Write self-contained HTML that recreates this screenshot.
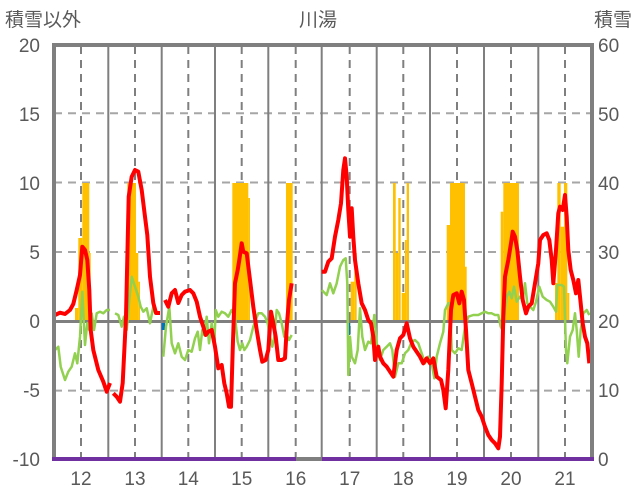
<!DOCTYPE html>
<html><head><meta charset="utf-8"><style>
html,body{margin:0;padding:0;background:#fff;}
svg{display:block;}
text{font-family:"Liberation Sans","Noto Sans CJK JP",sans-serif;fill:#595959;}
</style></head><body>
<svg width="636" height="501" viewBox="0 0 636 501" xmlns="http://www.w3.org/2000/svg">
<rect width="636" height="501" fill="#fff"/>
<!-- horizontal dashed grid -->
<g stroke="#a6a6a6" stroke-width="2" stroke-dasharray="8,6">
<line x1="54" y1="113.2" x2="592" y2="113.2"/>
<line x1="54" y1="182.5" x2="592" y2="182.5"/>
<line x1="54" y1="252" x2="592" y2="252"/>
<line x1="54" y1="390.6" x2="592" y2="390.6"/>
</g>
<!-- vertical dashed -->
<g stroke="#7f7f7f" stroke-width="2" stroke-dasharray="8,6">
<line x1="81" y1="46" x2="81" y2="459"/><line x1="135" y1="46" x2="135" y2="459"/>
<line x1="188.3" y1="46" x2="188.3" y2="459"/><line x1="241.7" y1="46" x2="241.7" y2="459"/>
<line x1="295.7" y1="46" x2="295.7" y2="459"/><line x1="349.7" y1="46" x2="349.7" y2="459"/>
<line x1="403.3" y1="46" x2="403.3" y2="459"/><line x1="457" y1="46" x2="457" y2="459"/>
<line x1="511" y1="46" x2="511" y2="459"/><line x1="565" y1="46" x2="565" y2="459"/>
</g>
<!-- vertical solid -->
<g stroke="#7f7f7f" stroke-width="2">
<line x1="108.3" y1="46" x2="108.3" y2="459"/><line x1="161.7" y1="46" x2="161.7" y2="459"/>
<line x1="215" y1="46" x2="215" y2="459"/><line x1="268.3" y1="46" x2="268.3" y2="459"/>
<line x1="321.7" y1="46" x2="321.7" y2="459"/><line x1="376.7" y1="46" x2="376.7" y2="459"/>
<line x1="430" y1="46" x2="430" y2="459"/><line x1="484" y1="46" x2="484" y2="459"/>
<line x1="538.3" y1="46" x2="538.3" y2="459"/>
</g>
<!-- snow bars -->
<g fill="#ffc000">
<rect x="75" y="308" width="3.3" height="13"/><rect x="78.3" y="238" width="4" height="83"/>
<rect x="82.3" y="183" width="7" height="138"/><rect x="89.3" y="253" width="1.4" height="68"/>
<rect x="127.3" y="183" width="8.7" height="138"/><rect x="136" y="253" width="2.3" height="68"/>
<rect x="138.3" y="281.7" width="1.7" height="39.3"/>
<rect x="232.3" y="183" width="16" height="138"/><rect x="248.3" y="198" width="1.7" height="123"/>
<rect x="286" y="183" width="6.7" height="138"/>
<rect x="350.7" y="281.7" width="3.6" height="39.3"/><rect x="354.3" y="253" width="2.4" height="68"/>
<rect x="393" y="183" width="2.7" height="138"/><rect x="395.7" y="253" width="2.6" height="68"/>
<rect x="398.3" y="198" width="2.4" height="123"/><rect x="401.7" y="293" width="3.3" height="28"/>
<rect x="405" y="240" width="1.7" height="81"/><rect x="406.7" y="183" width="2.3" height="138"/>
<rect x="446.7" y="225" width="3.3" height="96"/><rect x="450" y="183" width="15" height="138"/>
<rect x="465" y="266.7" width="1.7" height="54.3"/>
<rect x="500.7" y="211.7" width="2.6" height="109.3"/><rect x="503.3" y="183" width="15.7" height="138"/>
<rect x="555" y="283" width="2.3" height="38"/><rect x="557.3" y="183" width="3.4" height="138"/>
<rect x="560.7" y="226.7" width="3.3" height="94.3"/><rect x="564" y="183" width="3.3" height="138"/>
<rect x="567.3" y="293" width="2" height="28"/>
</g>
<!-- zero line -->
<line x1="54" y1="321.5" x2="592" y2="321.5" stroke="#7f7f7f" stroke-width="3"/>
<!-- blue marks -->
<rect x="161.7" y="323" width="3.3" height="7" fill="#0070c0"/>
<rect x="348.3" y="323" width="2" height="12" fill="#0070c0"/>
<!-- green -->
<g fill="none" stroke="#92d050" stroke-width="2.5" stroke-linejoin="round">
<polyline points="55,350 58.3,346.7 60.7,366.7 65,380 68.3,371.7 71.7,366.7 75,353.3 77.3,363.3 80,336.7 82.3,291.7 85,345 87.3,323.3 89.3,330 91.7,313.3 94,330 96.7,313.3 100,311.7 103.3,313.3 106.7,310 110,310"/>
<polyline points="115,313.3 118.3,315 121.7,326.7 124,316.7 126.7,330 129.3,300 131.7,276.7 135,286.7 138.3,296.7 140.7,306.7 143.3,311.7 146.7,308.3 150,323.3 153.3,306.7 156.7,313.3 160,313.3"/>
<polyline points="163.3,356.7 166,326.7 169.3,306.7 171.7,343.3 175,353.3 178.3,343.3 181.7,356.7 185,360 188.3,350 191.7,351.7 195,338.3 197.7,331.7 200,350 202.3,330 204.3,335 206.7,316.7 209,343.3 211.7,323.3 214.3,343.3 215.7,310 218.3,316.7 221.7,311.7 225,313.3 228.3,316.7 231.7,310 235,316.7 237.7,341.7 240,350 242.3,343.3 244.3,350 246.7,346.7 250,340 253.3,326.7 255.7,320 258.3,313.3 261.7,313.3 265,316.7 267.7,323.3 270,336.7 272.3,346.7 274.3,336.7 276.7,310 279,313.3 281.7,323.3 284.3,336.7 286.7,335 289,340 291.7,335"/>
<polyline points="321.7,290 326.7,295 330,283.3 333.3,293.3 336.7,283.3 340,266.7 343.3,260 345.7,258.3 347.3,283.3 348.3,375 350,336.7 351.7,356.7 355,363.3 357.7,350 360,308.3 362.3,336.7 365,350 368.3,341.7 371,343.3 374.3,315 376.7,343.3 380,360 383.3,350 386.7,346.7 390,343.3 392.3,350 395,376.7 398.3,363.3 401.7,363.3 405,353.3 408.3,350 411.7,341.7 415,340 418.3,343.3 421.7,353.3 425,363.3 428.3,356.7 431.7,363.3 434.3,378.3 436.7,356.7 440,343.3 443.3,331.7 445,310 448.3,303.3 450,303.3 451.7,350 455,353.3 458.3,348.3 461.7,350 465,326.7 468.3,316.7 473.3,315 478.3,315 481.7,313.3 485,311.7 488.3,313.3 491.7,313.3 495,315 498.3,315 500.7,326.7 503.3,331.7 505,310 506.7,296.7 509.3,291.7 511.7,298.3 514,286.7 516.7,301.7 520,296.7 522.7,300 525,283.3 527.3,303.3 530,306.7 533.3,310 536,301.7 539.3,286.7 542.7,296.7 546.7,300 550,301.7 553.3,306.7 556,311.7 557.3,285 561.7,285 564,286.7 566,350 567.3,363.3 570,336.7 572.7,330 575,313.3 576.7,330 578.7,356.7 580.7,330 583.3,313.3 586.7,310 589.3,315"/>
</g>
<!-- red -->
<g fill="none" stroke="#ff0000" stroke-width="4" stroke-linejoin="round">
<polyline points="55,315 60,312.7 65,314 70,310 73.3,304 76.7,290 80,275 82.3,246.7 85,250 87.3,260 89.3,290 90.7,330 93.3,350 98.3,370 103.3,381.7 106.7,391.7 110,383"/>
<polyline points="113.3,393.3 116.7,396.7 120,401.7 122.7,383 126,316.7 128.7,196.7 131.7,176.7 135,170 138.3,171.7 141.7,190 145,216.7 147.3,235 150,276.7 153.3,303 156,313 160,313"/>
<polyline points="165,300 168.3,306.7 171.7,293.3 175,290 178.3,303 181.7,295 185,291.7 190,290 193.3,293.3 196.7,301.7 200,316.7 203.3,326.7 205.7,335 208.3,331.7 211.7,330 215,346.7 218.3,368.3 221.7,365 224.3,383.3 226.7,393.3 229,406.7 231,406.7 232.7,350 235,283.3 237.7,270 239.3,260 241.7,243.3 243.3,251.7 246.7,253.3 250,280 253.3,306.7 256.7,330 260,350 262.3,361.7 265.7,360 268.3,350 271,311.7 273.3,323.3 275.7,336.7 278.3,360 281.7,360 285,358.3 287,323.3 289,300 291.7,283.3"/>
<polyline points="321.7,271.7 325,271.7 328.3,261.7 331.7,258.3 335,236.7 338.3,220 341,203.3 343.3,170 345,158.3 346.7,176.7 348.3,210 350,236.7 351.7,208.3 353.3,236.7 355,260 358.3,283.3 361.7,303.3 365,310 368.3,320 371,323.3 373.3,336.7 375,360 378.3,346.7 380,356.7 383.3,363.3 386.7,366.7 390,371.7 393.3,376.7 396.7,350 400,338.3 403.3,335 406.7,323.3 410,338.3 413.3,346.7 416.7,351.7 420,356.7 423.3,363.3 426.7,358.3 430,363.3 433.3,358.3 436.7,376.7 441,380 443.3,390 445.7,408.3 448.3,370 451,310 453.3,295 456.7,293.3 459.3,303.3 461.7,291.7 464,300 466,330 468.3,370 471.7,383.3 475,396.7 478.3,410 481.7,416.7 485,426.7 488.3,435 491.7,440 495,443.3 498.3,448.3 500,436.7 501.7,383.3 503.3,316.7 505,276.7 508.3,260 511,243.3 512.7,231.7 515,236.7 517.3,250 520,276.7 522.7,300 526,313.3 528.3,306.7 531.7,303.3 535,283.3 538.3,263.3 540,240 543.3,235 546.7,233.3 549.3,240 551.7,260 553.3,283.3 556,250 558.3,213.3 560,206.7 562.7,210 565,195 566.7,216.7 568.3,250 570.7,270 573.3,280 576,293.3 578.3,280 580.7,303.3 582.7,323.3 585,336.7 587.3,343.3 589.3,363.3"/>
</g>
<!-- border -->
<rect x="54" y="45" width="538" height="414" fill="none" stroke="#7f7f7f" stroke-width="4"/>
<line x1="52" y1="459" x2="296" y2="459" stroke="#7030a0" stroke-width="4"/>
<line x1="322" y1="459" x2="594" y2="459" stroke="#7030a0" stroke-width="4"/>
<!-- left labels -->
<g font-size="19" text-anchor="end">
<text x="40" y="52">20</text><text x="40" y="121">15</text><text x="40" y="190">10</text>
<text x="40" y="259">5</text><text x="40" y="328">0</text><text x="40" y="397">-5</text><text x="40" y="466">-10</text>
</g>
<g font-size="19" text-anchor="start">
<text x="598" y="52">60</text><text x="598" y="121">50</text><text x="598" y="190">40</text>
<text x="598" y="259">30</text><text x="598" y="328">20</text><text x="598" y="397">10</text><text x="598" y="466">0</text>
</g>
<g font-size="19" text-anchor="middle">
<text x="81" y="485">12</text><text x="135" y="485">13</text><text x="188.3" y="485">14</text>
<text x="241.7" y="485">15</text><text x="295.7" y="485">16</text><text x="349.7" y="485">17</text>
<text x="403.3" y="485">18</text><text x="457" y="485">19</text><text x="511" y="485">20</text><text x="565" y="485">21</text>
</g>
<text x="5" y="26" font-size="19">積雪以外</text>
<text x="318" y="26" font-size="19" text-anchor="middle">川湯</text>
<text x="632" y="26" font-size="19" text-anchor="end">積雪</text>
</svg>
</body></html>
